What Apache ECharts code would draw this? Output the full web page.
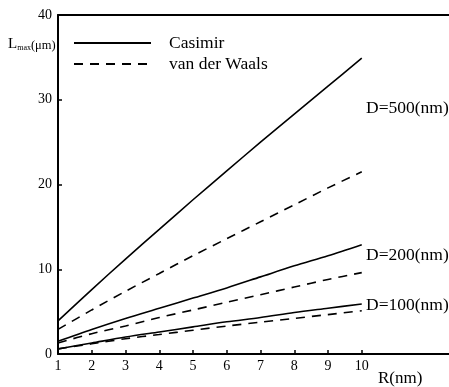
<!DOCTYPE html>
<html>
<head>
<meta charset="utf-8">
<script src="https://cdn.jsdelivr.net/npm/echarts@6/dist/echarts.min.js"></script>
<style>
html,body{margin:0;padding:0;background:#fff;}
#c{width:449px;height:387px;}
</style>
</head>
<body>
<div id="c"></div>
<script>
var R = [1, 2, 3, 4, 5, 6, 7, 8, 9, 10];
var xTicks = [1, 2, 3, 4, 5, 6, 7, 8, 9, 10];
var yTicks = [0, 10, 20, 30, 40];
var casimir500 = [3.9, 7.6, 11.2, 14.7, 18.2, 21.6, 25.0, 28.3, 31.6, 34.9];
var vdw500     = [2.9, 5.2, 7.4, 9.5, 11.6, 13.6, 15.6, 17.6, 19.6, 21.5];
var casimir200 = [1.5, 2.9, 4.2, 5.4, 6.6, 7.8, 9.1, 10.4, 11.6, 12.9];
var vdw200     = [1.3, 2.4, 3.3, 4.3, 5.2, 6.1, 7.0, 7.9, 8.8, 9.6];
var casimir100 = [0.6, 1.3, 2.0, 2.6, 3.2, 3.8, 4.3, 4.9, 5.4, 5.9];
var vdw100     = [0.6, 1.2, 1.8, 2.3, 2.8, 3.3, 3.75, 4.2, 4.65, 5.1];
var curveLabels = ['D=500(nm)', 'D=200(nm)', 'D=100(nm)'];

var FONT = '"Liberation Serif", "DejaVu Serif", serif';
function pairs(v){ return R.map(function(r,i){ return [r, v[i]]; }); }
function mk(name, v, dashed){
  return {
    name: name, type: 'line', data: pairs(v), smooth: 0.3,
    symbol: 'none', silent: true,
    lineStyle: {color: '#000', width: 1.6, type: dashed ? [9, 7] : 'solid'},
    itemStyle: {color: '#000'}
  };
}
var chart = echarts.init(document.getElementById('c'), null, {renderer: 'canvas'});
chart.setOption({
  animation: false,
  backgroundColor: '#fff',
  grid: {left: 58, right: 0, top: 15, bottom: 33, containLabel: false},
  legend: {
    data: ['Casimir', 'van der Waals'],
    orient: 'vertical', left: 73, top: 34, padding: 0,
    itemWidth: 77, itemHeight: 14, itemGap: 3,
    itemStyle: {opacity: 0},
    textStyle: {fontFamily: FONT, fontSize: 17.5, color: '#000', padding: [0, 0, 0, 13], lineHeight: 17},
    selectedMode: false
  },
  xAxis: [{
    type: 'value', min: 1, max: 12.585, position: 'bottom',
    axisLine: {lineStyle: {color: '#000', width: 2}},
    axisTick: {show: true, inside: true, length: 4, lineStyle: {color: '#000', width: 1.5}, customValues: xTicks},
    axisLabel: {fontFamily: FONT, fontSize: 14, color: '#000', margin: 5, customValues: xTicks},
    splitLine: {show: false}
  }, {
    type: 'value', min: 1, max: 12.585, position: 'top',
    axisLine: {show: true, lineStyle: {color: '#000', width: 2}},
    axisTick: {show: false}, axisLabel: {show: false}, splitLine: {show: false}
  }],
  yAxis: {
    type: 'value', min: 0, max: 40, interval: 10,
    axisLine: {show: true, lineStyle: {color: '#000', width: 2}},
    axisTick: {show: true, inside: true, length: 4, lineStyle: {color: '#000', width: 1.5}},
    axisLabel: {fontFamily: FONT, fontSize: 14, color: '#000', margin: 6},
    splitLine: {show: false}
  },
  series: [
    mk('Casimir', casimir500, false),
    mk('van der Waals', vdw500, true),
    mk('Casimir', casimir200, false),
    mk('van der Waals', vdw200, true),
    mk('Casimir', casimir100, false),
    mk('van der Waals', vdw100, true)
  ],
  graphic: [
    {type: 'text', left: 366, top: 99, style: {text: curveLabels[0], font: '17.5px ' + FONT, fill: '#000'}},
    {type: 'text', left: 366, top: 246, style: {text: curveLabels[1], font: '17.5px ' + FONT, fill: '#000'}},
    {type: 'text', left: 366, top: 296, style: {text: curveLabels[2], font: '17.5px ' + FONT, fill: '#000'}},
    {type: 'text', left: 378, top: 370, style: {text: 'R(nm)', font: '17px ' + FONT, fill: '#000'}},
    {type: 'text', left: 8, top: 37, style: {
      text: '{a|L}{b|max}{c|(μm)}',
      rich: {
        a: {fontFamily: FONT, fontSize: 15, fill: '#000', verticalAlign: 'bottom'},
        b: {fontFamily: FONT, fontSize: 8, fill: '#000', padding: [9, 0, 0, 0], verticalAlign: 'bottom'},
        c: {fontFamily: FONT, fontSize: 12.5, fill: '#000', verticalAlign: 'bottom'}
      }
    }}
  ]
});
</script>
</body>
</html>
